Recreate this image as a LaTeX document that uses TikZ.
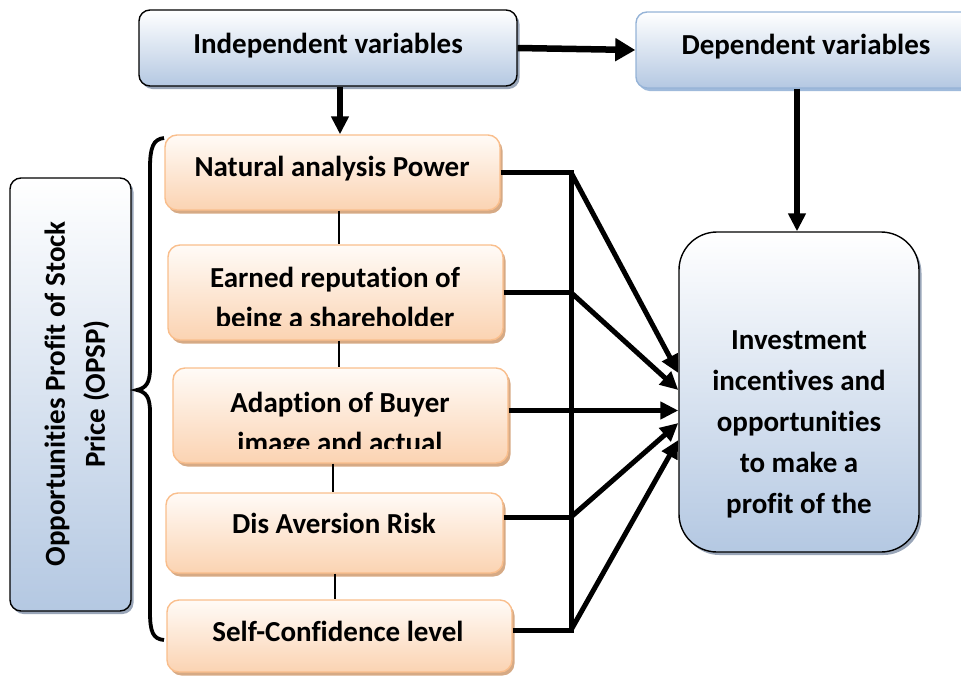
\documentclass[tikz,border=0pt]{standalone}
\usepackage{fontspec}
\setmainfont{Carlito}[RawFeature={-liga;-clig;-calt;-dlig}]
\usetikzlibrary{arrows.meta,shadows}
\definecolor{blueB}{HTML}{B4C8E2}
\definecolor{blueEdge}{HTML}{95B3D7}
\definecolor{orB}{HTML}{FBD3B2}
\definecolor{orT}{HTML}{FFFBF7}
\definecolor{orEdge}{HTML}{F9BE8C}
\definecolor{orShadow}{HTML}{D2A178}
\definecolor{blShadow}{HTML}{7F8FA6}
\tikzset{
  boxbase/.style={inner sep=0pt, rectangle},
  bluebox/.style={boxbase, rounded corners=11pt, draw=black, line width=1.4pt,
    top color=white, bottom color=blueB,
    drop shadow={shadow xshift=2.5pt, shadow yshift=-3pt, fill=blShadow, opacity=0.8}},
  lightbluebox/.style={boxbase, rounded corners=11pt, draw=blueEdge, line width=1.4pt,
    top color=white, bottom color=blueB,
    drop shadow={shadow xshift=2.5pt, shadow yshift=-3pt, fill=blueEdge, opacity=0.9}},
  orbox/.style={boxbase, rounded corners=12pt, draw=orEdge, line width=1.4pt,
    top color=orT, bottom color=orB,
    drop shadow={shadow xshift=2.5pt, shadow yshift=-3.5pt, fill=orShadow, opacity=0.9}},
  txt/.style={font=\fontsize{29}{40}\selectfont\bfseries, align=center, inner sep=0pt},
  conn/.style={line width=5pt},
  arr/.style={line width=5pt, -{Triangle[length=18pt,width=17pt]}},
  bigarr/.style={line width=6.5pt, -{Triangle[length=20pt,width=22pt]}},
  thinline/.style={line width=1.2pt},
}
\begin{document}
\begin{tikzpicture}[x=1pt,y=-1pt]
\useasboundingbox (0,0) rectangle (961,675);
% top boxes
\node[bluebox, minimum width=378pt, minimum height=76pt] (indep) at (328,48) {};
\node[txt] (indepT) at (328,45.5) {Independent variables};
\node[lightbluebox, minimum width=340pt, minimum height=76pt] (dep) at (806,50) {};
\node[txt] (depT) at (806,47) {Dependent variables};
% left box
\node[bluebox, minimum width=121pt, minimum height=433pt] (opsp) at (70.5,394.5) {};
\node[txt, rotate=90] (opspT) at (77,394) {Opportunities Profit of Stock\\Price (OPSP)};
% orange boxes
\node[orbox, minimum width=335pt, minimum height=75pt] (o1) at (332.5,172.5) {};
\node[txt] (o1T) at (332,169) {Natural analysis Power};
\node[orbox, minimum width=335pt, minimum height=95pt] (o2) at (335.5,292.5) {};
\begin{scope}
\clip ([yshift=15pt]o2.south west) rectangle (o2.north east);
\node[txt] (o2T) at (335,300) {Earned reputation of\\being a shareholder};
\end{scope}
\node[orbox, minimum width=335pt, minimum height=95pt] (o3) at (340.5,415.5) {};
\begin{scope}
\clip ([yshift=15pt]o3.south west) rectangle (o3.north east);
\node[txt] (o3T) at (340,425) {Adaption of Buyer\\image and actual};
\end{scope}
\node[orbox, minimum width=337pt, minimum height=80pt] (o4) at (334.5,533) {};
\node[txt] (o4T) at (334,523.5) {Dis Aversion Risk};
\node[orbox, minimum width=345pt, minimum height=72pt] (o5) at (339.5,636) {};
\node[txt] (o5T) at (338,631.5) {Self-Confidence level};
% result box
\node[bluebox, rounded corners=38pt, minimum width=240pt, minimum height=320pt] (res) at (799,392) {};
\node[txt, font=\fontsize{29}{41}\selectfont\bfseries] (resT) at (799,424.5) {Investment\\incentives and\\opportunities\\to make a\\profit of the};
% brace
\draw[line width=3.8pt] (164,138) .. controls (153,139) and (150,148) .. (150,168) -- (150,368)
  .. controls (150,383) and (146,388) .. (137,390) .. controls (146,392) and (150,397) .. (150,412)
  -- (150,612) .. controls (150,632) and (153,639) .. (164,640);
% top arrows
\coordinate (xa) at (340,0);
\coordinate (xb) at (797,0);
\draw[bigarr] (indep.east) -- (dep.west);
\draw[arr, line width=6pt] (xa |- indep.south) -- (xa |- o1.north);
\draw[arr, line width=6pt] (xb |- dep.south) -- (xb |- res.north);
% thin links
\coordinate (t1) at (339,0);
\coordinate (t2) at (339,0);
\coordinate (t3) at (333,0);
\coordinate (t4) at (335,0);
\draw[thinline] (t1 |- o1.south) -- (t1 |- o2.north);
\draw[thinline] (t2 |- o2.south) -- (t2 |- o3.north);
\draw[thinline] (t3 |- o3.south) -- (t3 |- o4.north);
\draw[thinline] (t4 |- o4.south) -- (t4 |- o5.north);
% bus
\coordinate (bus) at (571,0);
\coordinate (j1) at (bus |- o1.east);
\coordinate (j2) at (bus |- o2.east);
\coordinate (j4) at ([yshift=16pt]bus |- o4.east);
\coordinate (j5) at ([yshift=6pt]bus |- o5.east);
\draw[conn] (o1.east) -- (j1);
\draw[conn] (o2.east) -- (j2);
\draw[conn] ([yshift=16pt]o4.east) -- (j4);
\draw[conn] ([yshift=6pt]o5.east) -- (j5);
\draw[conn] ([yshift=2.5pt]j1) -- ([yshift=-2.5pt]j5);
\draw[arr] ([yshift=5pt]o3.east) -- ([yshift=5pt]res.west |- o3.east);
\draw[arr] (j1) -- ([yshift=19pt]res.west);
\draw[arr] (j2) -- ([yshift=2pt]res.west);
\draw[arr] (j4) -- ([yshift=-31pt]res.west);
\draw[arr] (j5) -- ([yshift=-48pt]res.west);
\end{tikzpicture}
\end{document}
